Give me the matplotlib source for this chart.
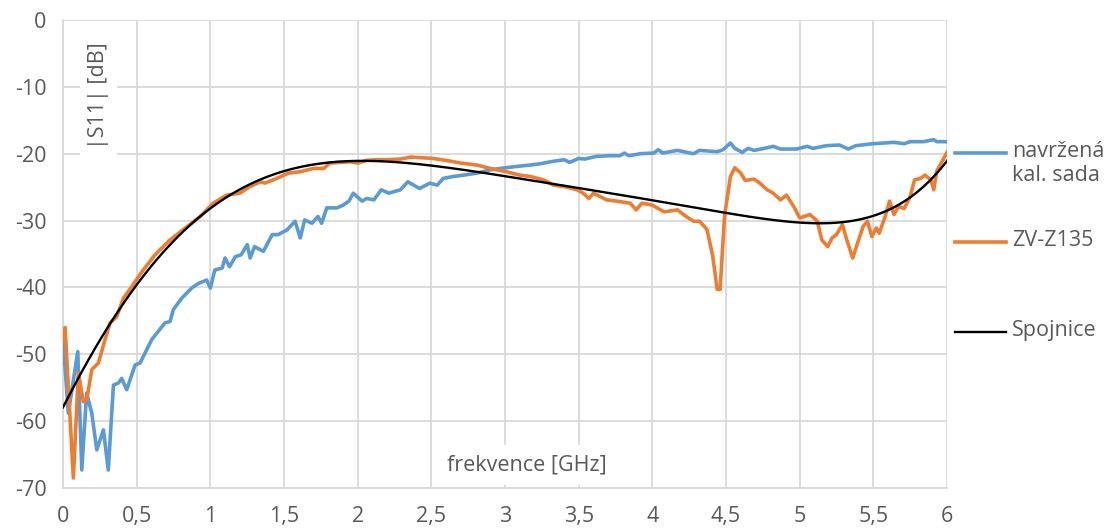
import matplotlib
matplotlib.use("Agg")
import matplotlib.pyplot as plt
from matplotlib.lines import Line2D
from numpy.polynomial import polynomial as P
import numpy as np

plt.rcParams['font.family'] = ['Open Sans', 'DejaVu Sans']
plt.rcParams['axes.unicode_minus'] = False

# |S11| of the designed cal kit (frequency in GHz, value in dB)
f_kit = [0.0, 0.036, 0.10, 0.127, 0.16, 0.195, 0.229, 0.274, 0.307, 0.342, 0.376, 0.398,
         0.432, 0.489, 0.523, 0.602, 0.692, 0.726, 0.749, 0.806, 0.873, 0.919, 0.975, 1.0,
         1.03, 1.08, 1.10, 1.13, 1.17, 1.21, 1.25, 1.27, 1.30, 1.36, 1.42, 1.46, 1.52, 1.575,
         1.61, 1.64, 1.69, 1.73, 1.755, 1.79, 1.86, 1.90, 1.94, 1.97, 2.03, 2.06, 2.11, 2.16,
         2.21, 2.29, 2.34, 2.42, 2.49, 2.54, 2.58, 2.65, 2.72, 2.81, 2.90, 2.97, 3.08, 3.17,
         3.24, 3.31, 3.40, 3.44, 3.50, 3.54, 3.62, 3.71, 3.78, 3.81, 3.84, 3.92, 4.01, 4.04,
         4.07, 4.17, 4.28, 4.32, 4.44, 4.48, 4.53, 4.56, 4.61, 4.65, 4.69, 4.76, 4.82, 4.87,
         4.98, 5.05, 5.09, 5.18, 5.27, 5.33, 5.38, 5.50, 5.64, 5.71, 5.75, 5.84, 5.91, 5.93,
         6.0]
s_kit = [-47.8, -58.8, -49.6, -67.3, -55.8, -58.8, -64.3, -61.3, -67.3, -54.6, -54.3, -53.6,
         -55.3, -51.6, -51.3, -47.8, -45.3, -45.1, -43.3, -41.6, -40.1, -39.4, -38.9, -40.1,
         -37.4, -37.1, -35.6, -36.9, -35.4, -35.1, -33.6, -35.6, -33.9, -34.6, -32.1, -32.1, -31.4, -30.1,
         -32.6, -29.9, -30.4, -29.4, -30.4, -28.1, -28.1, -27.7, -27.1, -25.9, -27.1, -26.7, -26.9, -25.4,
         -25.9, -25.4, -24.2, -25.2, -24.4, -24.7, -23.7, -23.4, -23.2, -22.9, -22.4, -22.2, -21.9, -21.7,
         -21.5, -21.2, -20.9, -21.3, -20.7, -20.8, -20.4, -20.3, -20.3, -19.9, -20.3, -20.0, -19.9, -19.4,
         -19.9, -19.5, -20.0, -19.5, -19.7, -19.4, -18.4, -19.2, -19.8, -19.2, -19.5, -19.2, -18.9, -19.3,
         -19.3, -18.9, -19.2, -18.8, -18.7, -19.3, -18.8, -18.5, -18.3, -18.5, -18.2, -18.2, -17.9, -18.2,
         -18.2]

# |S11| measured with ZV-Z135
f_zv = [0.0, 0.014, 0.07, 0.104, 0.138, 0.161, 0.195, 0.24, 0.285, 0.319, 0.364, 0.41, 0.466,
        0.534, 0.625, 0.726, 0.93, 1.02, 1.11, 1.20, 1.27, 1.34, 1.37, 1.45, 1.53, 1.61, 1.70,
        1.77, 1.81, 1.95, 2.0, 2.06, 2.13, 2.20, 2.29, 2.36, 2.51, 2.60, 2.70, 2.81, 2.90, 3.01,
        3.10, 3.17, 3.26, 3.33, 3.40, 3.49, 3.53, 3.57, 3.60, 3.69, 3.76, 3.85, 3.89, 3.93, 4.0,
        4.08, 4.17, 4.23, 4.28, 4.32, 4.37, 4.41, 4.44, 4.46, 4.49, 4.53, 4.56, 4.60, 4.63, 4.69,
        4.73, 4.78, 4.82, 4.87, 4.91, 4.96, 5.0, 5.07, 5.12, 5.15, 5.19, 5.22, 5.25, 5.29, 5.32,
        5.36, 5.40, 5.43, 5.46, 5.49, 5.52, 5.54, 5.58, 5.61, 5.64, 5.67, 5.71, 5.75, 5.78, 5.82,
        5.85, 5.89, 5.91, 5.93, 5.98, 6.0]
s_zv = [-48.0, -46.0, -68.5, -52.8, -57.1, -56.8, -52.3, -51.3, -47.8, -45.3, -44.4, -41.6, -39.9,
        -37.7, -35.1, -32.9, -29.4, -27.4, -26.2, -25.9, -24.9, -24.2, -24.4, -23.7, -22.9, -22.7, -22.2,
        -22.2, -21.4, -21.2, -21.4, -21.0, -20.9, -20.9, -20.8, -20.5, -20.7, -21.0, -21.4, -21.7, -22.2, -22.7,
        -23.2, -23.4, -23.9, -24.7, -24.9, -25.4, -25.9, -26.7, -25.9, -26.9, -27.1, -27.4, -28.4, -27.4, -27.7,
        -28.7, -28.4, -29.4, -30.1, -30.1, -31.3, -35.3, -40.3, -40.3, -29.3, -23.4, -22.1, -22.9, -24.0, -23.8,
        -24.4, -25.4, -25.9, -26.9, -26.2, -27.9, -29.6, -29.1, -30.1, -32.9, -33.9, -32.6, -32.1, -30.6, -32.9,
        -35.6, -32.9, -30.9, -30.1, -32.4, -31.1, -31.9, -29.4, -27.1, -29.1, -27.9, -28.2, -26.4, -23.9, -23.7,
        -23.2, -23.9, -25.4, -22.6, -20.6, -19.8]

# trend line (Spojnice) points
f_fit = [0.0, 0.305, 0.5, 0.78, 1.0, 1.5, 2.0, 2.5, 2.75, 3.0, 3.2, 3.646, 4.0, 4.5, 5.0,
         5.23, 5.5, 5.75, 6.0]
s_fit = [-58.0, -45.9, -39.2, -32.9, -28.1, -22.6, -21.0, -21.7, -22.4, -23.4, -24.3, -25.7,
         -26.9, -28.75, -30.25, -30.45, -29.4, -26.4, -21.1]

xticks = np.arange(0, 6.01, 0.5)
xlabels = ['0', '0,5', '1', '1,5', '2', '2,5', '3', '3,5', '4', '4,5', '5', '5,5', '6']
yticks = np.arange(-70, 1, 10)

blue = '#5B9BD5'
orange = '#ED7D31'
grey = '#D9D9D9'
txt = '#595959'
fs = 15.5

fig = plt.figure(figsize=(11.08, 5.29), dpi=100)
ax = fig.add_axes([0.0569, 0.0775, 0.7978, 0.8847])

# smooth curve through the trend points
ff = np.linspace(0, 6, 300)
ss = P.polyval(ff, P.polyfit(f_fit, s_fit, 6))

ax.plot(f_kit, s_kit, color=blue, lw=2.6, solid_joinstyle='round', zorder=3)
ax.plot(f_zv, s_zv, color=orange, lw=2.6, solid_joinstyle='round', zorder=4)
ax.plot(ff, ss, color='black', lw=1.7, zorder=5)

ax.set_xlim(0, 6)
ax.set_ylim(-70, 0)
ax.set_xticks(xticks)
ax.set_xticklabels(xlabels)
ax.set_yticks(yticks)
ax.grid(True, color=grey, lw=1.3)
ax.tick_params(length=0, labelsize=fs, colors=txt)
ax.tick_params(axis='y', pad=12)
ax.tick_params(axis='x', pad=13)
for s in ['top', 'right']:
    ax.spines[s].set_visible(False)
for s in ['left', 'bottom']:
    ax.spines[s].set_color(grey)
    ax.spines[s].set_linewidth(1.3)

ax.text(0.24, -11.3, '|S11| [dB]', rotation=90, ha='center', va='center', fontsize=fs,
        color=txt, zorder=2.5,
        bbox=dict(facecolor='white', edgecolor='none', pad=6))
ax.text(3.15, -66.6, 'frekvence [GHz]', ha='center', va='center', fontsize=fs,
        color=txt, zorder=2.5,
        bbox=dict(facecolor='white', edgecolor='none', pad=7))

# legend on the right
W, H = 1108.0, 529.0
entries = [(blue, 2.6, 153, 'navržená\nkal. sada'),
           (orange, 2.6, 242, 'ZV-Z135'),
           ('black', 1.7, 332, 'Spojnice')]
for col, lw, ypx, label in entries:
    fig.add_artist(Line2D([955 / W, 1006 / W], [1 - ypx / H, 1 - ypx / H], color=col, lw=lw))
    fig.text(1012 / W, 1 - (ypx - 12) / H, label, ha='left', va='top', fontsize=fs,
             color=txt, linespacing=1.2)

fig.savefig('out.png', dpi=100)
